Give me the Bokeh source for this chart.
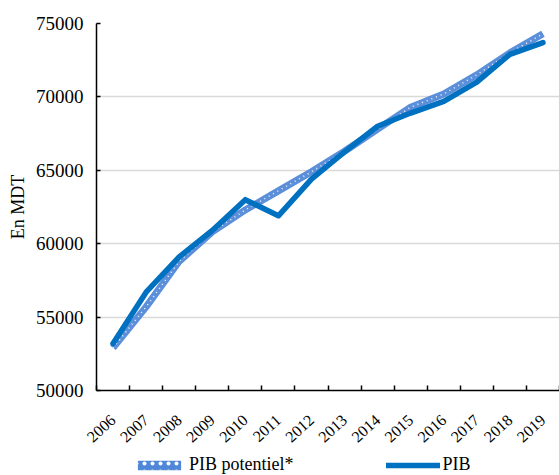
import math
from bokeh.plotting import figure
from bokeh.layouts import column
from bokeh.models import FixedTicker, Legend, LegendItem, ColumnDataSource, Range1d
from bokeh.embed import file_html
from bokeh.resources import INLINE

years = ["2006", "2007", "2008", "2009", "2010", "2011", "2012", "2013",
         "2014", "2015", "2016", "2017", "2018", "2019"]
pib = [53200, 56700, 59100, 60900, 63000, 61900, 64400, 66250,
       68000, 68900, 69700, 71000, 72900, 73700]
pib_potentiel = [52900, 55700, 58800, 60800, 62300, 63600, 64900, 66300,
                 67800, 69300, 70200, 71500, 73000, 74300]

FONT = "Liberation Serif"
BLUE = "#0070C0"
LIGHT = "#5B8FDA"

xs = [i + 0.5 for i in range(len(years))]
src = ColumnDataSource(dict(x=xs, pib=pib, pot=pib_potentiel))

p = figure(width=559, height=450, output_backend="svg", toolbar_location=None,
           x_range=Range1d(0, len(years)), y_range=Range1d(50000, 75000),
           min_border_left=96, min_border_right=0, min_border_top=23,
           min_border_bottom=60)
p.outline_line_color = None
p.background_fill_color = "white"
p.border_fill_color = "white"

# potential GDP: dotted band look
p.line("x", "pot", source=src, line_color=LIGHT, line_width=7)
p.line("x", "pot", source=src, line_color="white", line_width=1.6,
       line_dash="1 4", line_alpha=0.9)
p.line("x", "pib", source=src, line_color=BLUE, line_width=5.5,
       line_cap="round", line_join="round")

# axes
p.xaxis.ticker = FixedTicker(ticks=xs, minor_ticks=list(range(len(years) + 1)))
p.xaxis.major_label_overrides = {x: y for x, y in zip(xs, years)}
p.xaxis.major_tick_in = 0
p.xaxis.major_tick_out = 0
p.xaxis.minor_tick_in = 5
p.xaxis.minor_tick_out = 0
p.xaxis.minor_tick_line_color = "black"
p.xaxis.minor_tick_line_width = 1.5
p.xaxis.major_label_orientation = 0.74
p.xaxis.major_label_standoff = 27
p.xaxis.major_label_text_font = FONT
p.xaxis.major_label_text_font_size = "16px"
p.xaxis.major_label_text_color = "black"
p.xaxis.axis_line_color = "black"
p.xaxis.axis_line_width = 1.5

p.yaxis.ticker = FixedTicker(ticks=[50000, 55000, 60000, 65000, 70000, 75000])
p.yaxis.formatter.use_scientific = False
p.yaxis.major_tick_in = 4
p.yaxis.major_tick_out = 0
p.yaxis.minor_tick_line_color = None
p.yaxis.major_tick_line_color = "black"
p.yaxis.major_tick_line_width = 1.5
p.yaxis.axis_line_color = "black"
p.yaxis.axis_line_width = 1.5
p.yaxis.major_label_text_font = FONT
p.yaxis.major_label_text_font_size = "19px"
p.yaxis.major_label_text_color = "black"
p.yaxis.major_label_standoff = 13
p.yaxis.axis_label = "En MDT"
p.yaxis.axis_label_text_font = FONT
p.yaxis.axis_label_text_font_size = "18px"
p.yaxis.axis_label_text_font_style = "normal"
p.yaxis.axis_label_text_color = "black"
p.yaxis.axis_label_standoff = 5

p.xgrid.grid_line_color = None
p.ygrid.grid_line_color = "#D9D9D9"
p.ygrid.grid_line_width = 1.5

# separate strip for the legend
lg = figure(width=559, height=25, output_backend="svg", toolbar_location=None,
            x_axis_type=None, y_axis_type=None, x_range=Range1d(0, 1),
            y_range=Range1d(0, 1), min_border=0)
lg.outline_line_color = None
lg.border_fill_color = "white"
nan = float("nan")
proxy = ColumnDataSource(dict(l=[nan], r=[nan], t=[nan], b=[nan], x=[nan], y=[nan]))
r_box = lg.quad(left="l", right="r", top="t", bottom="b", source=proxy,
                fill_color="#4F88D8", line_color=None,
                hatch_pattern="dot", hatch_color="white", hatch_scale=8,
                hatch_weight=1.5)
r_line = lg.line("x", "y", source=proxy, line_color=BLUE, line_width=5.5,
                 line_cap="round")

legend = Legend(items=[LegendItem(label="PIB potentiel*", renderers=[r_box]),
                       LegendItem(label="PIB", renderers=[r_line])],
                orientation="horizontal", location=(36, 0))
legend.label_text_font = FONT
legend.label_text_font_size = "18px"
legend.label_text_color = "black"
legend.glyph_width = 54
legend.glyph_height = 12
legend.spacing = 92
legend.label_standoff = 3
legend.border_line_color = None
legend.background_fill_alpha = 0
legend.padding = 0
legend.margin = 0
lg.add_layout(legend, "center")

layout = column(p, lg, spacing=0)
open("out.html", "w").write(file_html(layout, INLINE))
